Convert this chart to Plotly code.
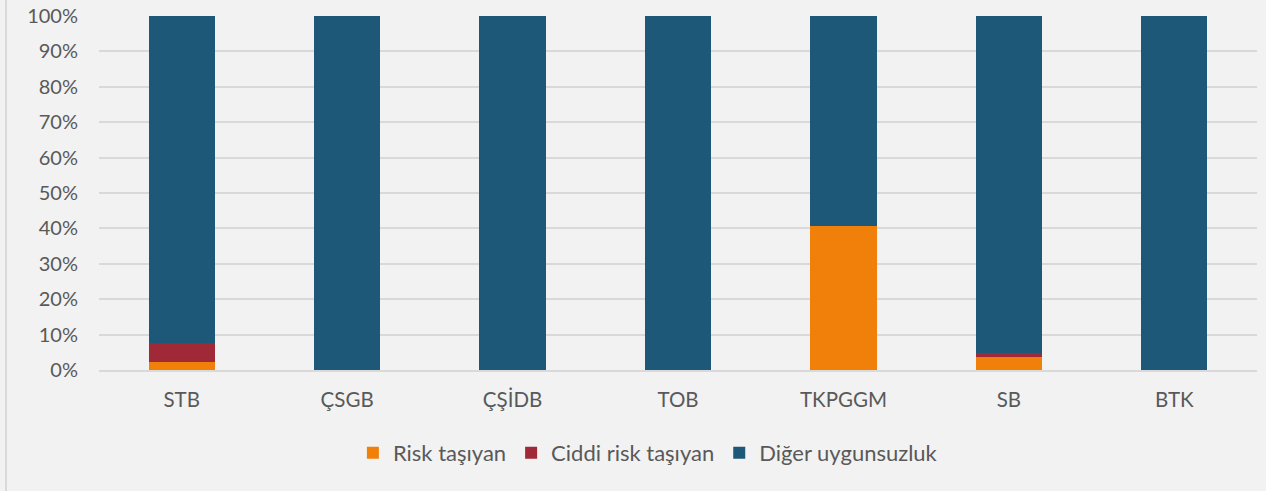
import plotly.graph_objects as go

categories = ["STB", "ÇSGB", "ÇŞİDB", "TOB", "TKPGGM", "SB", "BTK"]
risk = [2.4, 0, 0, 0, 40.8, 3.6, 0]
ciddi = [5.2, 0, 0, 0, 0, 1.2, 0]
diger = [100 - r - c for r, c in zip(risk, ciddi)]
series_names = ["Risk taşıyan", "Ciddi risk taşıyan", "Diğer uygunsuzluk"]
colors = ["#F0800A", "#A02937", "#1E5879"]
tick_vals = list(range(0, 101, 10))
tick_text = [f"{v}%" for v in tick_vals]

fig = go.Figure()
for name, vals, col in zip(series_names, [risk, ciddi, diger], colors):
    fig.add_trace(go.Bar(x=categories, y=vals, name=name, marker_color=col,
                         marker_line_width=0, width=0.4))

font_family = "Lato, Open Sans, sans-serif"
fig.update_layout(
    barmode="stack",
    width=1266, height=491,
    paper_bgcolor="#F2F2F2", plot_bgcolor="#F2F2F2",
    margin=dict(l=99, r=9, t=16, b=121, autoexpand=False),
    font=dict(family=font_family, size=20, color="#595959"),
    showlegend=True,
    legend=dict(orientation="h", x=0.474, xanchor="center", y=-0.175, yanchor="top",
                font=dict(size=22, color="#595959"), itemwidth=30,
                traceorder="normal"),
)
fig.update_yaxes(range=[0, 100], tickvals=tick_vals, ticktext=tick_text,
                 showgrid=True, gridcolor="#D9D9D9", gridwidth=2,
                 zeroline=False, ticks="", ticklabelstandoff=20, showline=False,
                 automargin=False, tickfont=dict(size=20))
fig.update_xaxes(showgrid=False, showline=True, linecolor="#D9D9D9", linewidth=2,
                 ticks="", ticklabelstandoff=10, automargin=False,
                 tickfont=dict(size=20.5))
fig.add_shape(type="line", xref="paper", yref="paper",
              x0=-93/1158, x1=-93/1158, y0=-121/354, y1=1 + 16/354,
              line=dict(color="#D9D9D9", width=2), layer="below")
fig.write_html("out.html", config={"displayModeBar": False},
               post_script="document.body.style.margin='0';document.body.style.background='#F2F2F2';")
